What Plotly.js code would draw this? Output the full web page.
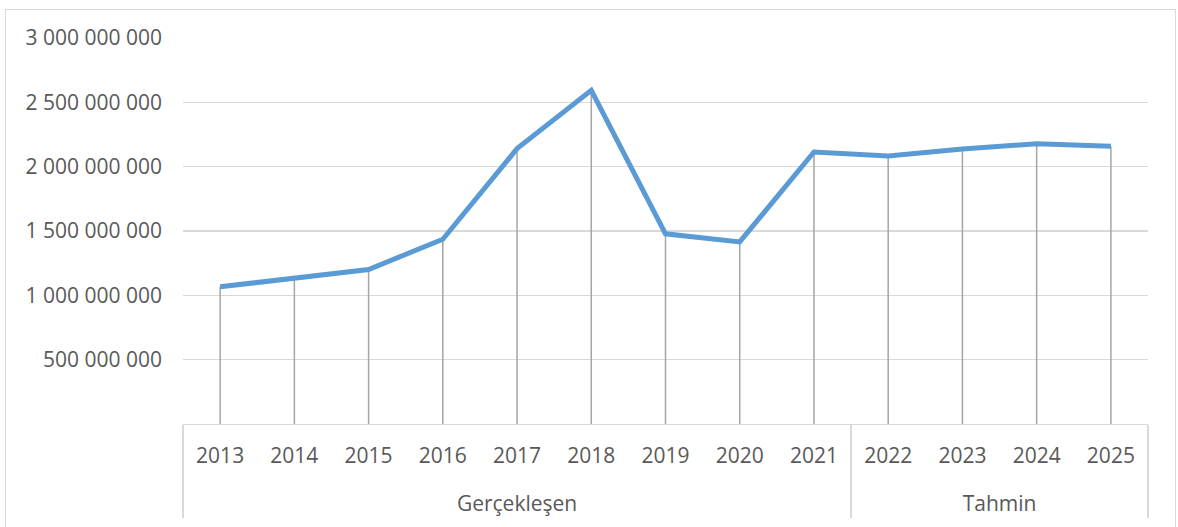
<!DOCTYPE html>
<html>
<head>
<meta charset="utf-8">
<script src="https://cdn.plot.ly/plotly-3.0.1.min.js"></script>
<style>
  html, body { margin: 0; padding: 0; background: #fff; }
  #wrap { position: relative; width: 1178px; height: 527px; overflow: hidden; }
  #chart { width: 1178px; height: 527px; }
  #frame { position: absolute; left: 5px; top: 9px; width: 1171px; height: 600px;
           border: 1px solid #d9d9d9; box-sizing: border-box; pointer-events: none; }
</style>
</head>
<body>
<div id="wrap">
  <div id="chart"></div>
  <div id="frame"></div>
</div>
<script>
const years = ['2013','2014','2015','2016','2017','2018','2019','2020','2021','2022','2023','2024','2025'];
const groups = ['Gerçekleşen','Gerçekleşen','Gerçekleşen','Gerçekleşen','Gerçekleşen','Gerçekleşen','Gerçekleşen','Gerçekleşen','Gerçekleşen','Tahmin','Tahmin','Tahmin','Tahmin'];
const values = [1066000000, 1136000000, 1201000000, 1436000000, 2140000000, 2593000000, 1478000000, 1415000000, 2114000000, 2083000000, 2137000000, 2179000000, 2158000000];
const yTickVals = [500000000, 1000000000, 1500000000, 2000000000, 2500000000, 3000000000];

// group spans (category index positions) derived from the groups list
const groupNames = [];
const groupCenters = [];
const boundaries = [-0.5];
groups.forEach((g, i) => {
  if (i === groups.length - 1 || groups[i + 1] !== g) {
    const first = groups.indexOf(g);
    groupNames.push(g);
    groupCenters.push((first + i) / 2);
    boundaries.push(i + 0.5);
  }
});
const catRange = [-0.5, years.length - 0.5];

const font = { family: 'Open Sans, Noto Sans, sans-serif', size: 21, color: '#595959' };

const trace = {
  type: 'scatter',
  mode: 'lines',
  x: years,
  y: values,
  xaxis: 'x',
  yaxis: 'y',
  line: { color: '#5b9bd5', width: 5, shape: 'linear' },
  error_y: {
    type: 'data',
    symmetric: false,
    array: values.map(() => 0),
    arrayminus: values,
    width: 0,
    color: '#a5a5a5',
    thickness: 1.5
  },
  hoverinfo: 'skip'
};

// invisible helper traces so the overlaid group axes are drawn
const dividerAxisTrace = {
  type: 'scatter', mode: 'none', x: boundaries, y: boundaries.map(() => 0),
  xaxis: 'x2', yaxis: 'y', hoverinfo: 'skip', showlegend: false
};
const groupAxisTrace = {
  type: 'scatter', mode: 'none', x: groupCenters, y: groupCenters.map(() => 0),
  xaxis: 'x3', yaxis: 'y', hoverinfo: 'skip', showlegend: false
};

const layout = {
  width: 1178,
  height: 527,
  margin: { l: 183, r: 30, t: 38, b: 103 },
  paper_bgcolor: '#ffffff',
  plot_bgcolor: '#ffffff',
  showlegend: false,
  separators: ', ',
  font: font,
  xaxis: {
    type: 'category',
    range: catRange,
    showgrid: false,
    zeroline: false,
    showline: true,
    linecolor: '#d9d9d9',
    linewidth: 1.3,
    ticks: '',
    ticklabelstandoff: 12,
    tickfont: font
  },
  xaxis2: {
    overlaying: 'x',
    anchor: 'y',
    side: 'bottom',
    type: 'linear',
    range: catRange,
    showgrid: false,
    zeroline: false,
    showline: false,
    tickvals: boundaries,
    ticktext: boundaries.map(() => ''),
    ticks: 'outside',
    ticklen: 93,
    tickwidth: 1.3,
    tickcolor: '#d9d9d9'
  },
  xaxis3: {
    overlaying: 'x',
    anchor: 'y',
    side: 'bottom',
    type: 'linear',
    range: catRange,
    showgrid: false,
    zeroline: false,
    showline: false,
    tickvals: groupCenters,
    ticktext: groupNames,
    ticks: '',
    ticklabelstandoff: 65,
    tickfont: font
  },
  yaxis: {
    range: [0, 3000000000],
    tickvals: yTickVals,
    tickformat: ',d',
    showgrid: true,
    gridcolor: '#d9d9d9',
    gridwidth: 1.3,
    zeroline: false,
    showline: false,
    ticks: '',
    ticklabelstandoff: 20,
    tickfont: font,
    fixedrange: true
  }
};

Plotly.newPlot('chart', [dividerAxisTrace, groupAxisTrace, trace], layout, { displayModeBar: false, staticPlot: true });
</script>
</body>
</html>
